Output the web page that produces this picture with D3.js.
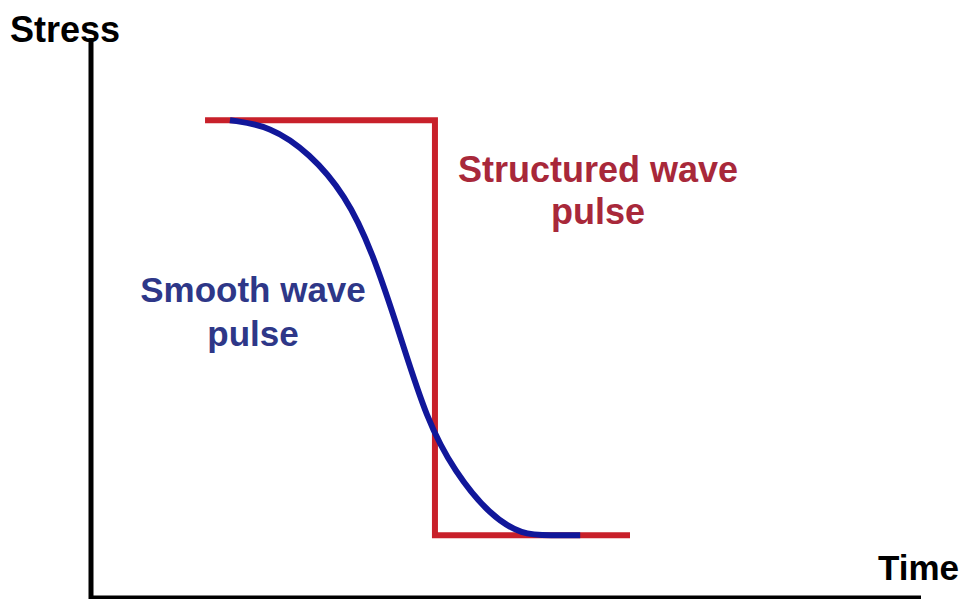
<!DOCTYPE html>
<html>
<head>
<meta charset="utf-8">
<script src="https://cdn.jsdelivr.net/npm/d3@7"></script>
<style>
  body { margin: 0; background: #fff; }
  text { font-family: "Liberation Sans", Arial, sans-serif; font-weight: bold; }
</style>
</head>
<body>
<div id="chart-area"></div>
<script>
var outerWidth = 965;
var outerHeight = 599;

// structured (square) pulse: time, stress
var squareTime = [13.8, 41.5, 41.5, 65.0];
var squareStress = [85.6, 85.6, 11.1, 11.1];

// smooth pulse
var smoothTime = [16.8, 21.6, 26.4, 30.7, 33.9, 37.3, 40.5, 43.9, 48.1, 52.0, 55.5, 59.0];
var smoothStress = [85.6, 84.6, 79.7, 72.2, 62.3, 47.0, 31.8, 22.4, 14.7, 11.1, 11.1, 11.1];

var svg = d3.select("#chart-area")
  .append("svg")
  .attr("width", outerWidth)
  .attr("height", outerHeight);

var x = d3.scaleLinear()
  .domain([0, 100])
  .range([90.5, 920.5]);

var y = d3.scaleLinear()
  .domain([0, 100])
  .range([597, 40]);

// axes, no ticks
var xAxis = d3.axisBottom(x).tickValues([]).tickSizeOuter(0);
var yAxis = d3.axisLeft(y).tickValues([]).tickSizeOuter(0);

svg.append("g")
  .attr("transform", "translate(0," + y(0) + ")")
  .call(xAxis)
  .select(".domain")
  .attr("stroke", "#000")
  .attr("stroke-width", 4);

svg.append("g")
  .attr("transform", "translate(" + x(0) + ",0)")
  .call(yAxis)
  .select(".domain")
  .attr("stroke", "#000")
  .attr("stroke-width", 5)
  .attr("stroke-linecap", "square");

var squareData = squareTime.map(function(t, i) {
  return { t: t, s: squareStress[i] };
});
var smoothData = smoothTime.map(function(t, i) {
  return { t: t, s: smoothStress[i] };
});

var line = d3.line()
  .x(function(d) { return x(d.t); })
  .y(function(d) { return y(d.s); });

svg.append("path")
  .datum(squareData)
  .attr("d", line)
  .attr("fill", "none")
  .attr("stroke", "#c8202a")
  .attr("stroke-width", 6);

svg.append("path")
  .datum(smoothData)
  .attr("d", line.curve(d3.curveBasis))
  .attr("fill", "none")
  .attr("stroke", "#11179a")
  .attr("stroke-width", 6);

// axis labels
svg.append("text")
  .attr("x", 10)
  .attr("y", 42)
  .attr("font-size", "36px")
  .attr("fill", "#000")
  .text("Stress");

svg.append("text")
  .attr("x", 959)
  .attr("y", 580)
  .attr("text-anchor", "end")
  .attr("font-size", "35px")
  .attr("fill", "#000")
  .text("Time");

// curve labels
var red = svg.append("text")
  .attr("text-anchor", "middle")
  .attr("font-size", "36px")
  .attr("fill", "#a8283a");
red.append("tspan").attr("x", 598).attr("y", 182).text("Structured wave");
red.append("tspan").attr("x", 598).attr("y", 224).text("pulse");

var blue = svg.append("text")
  .attr("text-anchor", "middle")
  .attr("font-size", "35px")
  .attr("fill", "#2e3788");
blue.append("tspan").attr("x", 253).attr("y", 302).text("Smooth wave");
blue.append("tspan").attr("x", 253).attr("y", 346).text("pulse");
</script>
</body>
</html>
